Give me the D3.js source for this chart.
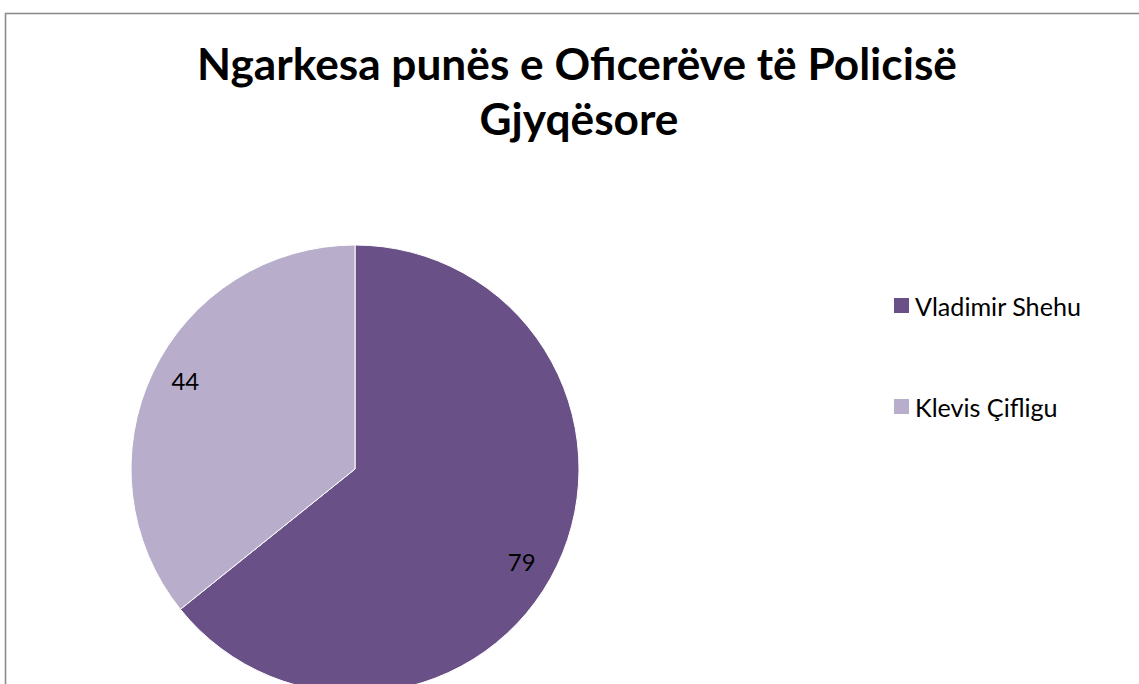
<!DOCTYPE html>
<html>
<head>
<meta charset="utf-8">
<script src="https://cdn.jsdelivr.net/npm/d3@7/dist/d3.min.js"></script>
<style>
  html, body { margin: 0; padding: 0; background: #fff; overflow: hidden; }
  svg { display: block; }
</style>
</head>
<body>
<svg id="chart" width="1139" height="684"></svg>
<script>
const titleLines = ["Ngarkesa punës e Oficerëve të Policisë", "Gjyqësore"];
const categories = ["Vladimir Shehu", "Klevis Çifligu"];
const values = [79, 44];
const colors = ["#695086", "#b8aecb"];

const svg = d3.select("#chart");
const FONT = "Lato, 'Open Sans', sans-serif";

// chart frame
svg.append("rect")
  .attr("x", 5.5).attr("y", 13.5)
  .attr("width", 1300).attr("height", 1000)
  .attr("fill", "#fff")
  .attr("stroke", "#8c8c8c").attr("stroke-width", 1.6);

function fitText(sel, targetWidth, startSize) {
  sel.attr("font-size", startSize);
  const w = sel.node().getComputedTextLength();
  sel.attr("font-size", startSize * targetWidth / w);
}

// Title
const t1 = svg.append("text")
  .attr("x", 577).attr("y", 80)
  .attr("text-anchor", "middle")
  .attr("font-family", FONT).attr("font-weight", "bold")
  .attr("fill", "#000")
  .text(titleLines[0]);
fitText(t1, 760, 44);
svg.append("text")
  .attr("x", 579).attr("y", 135)
  .attr("text-anchor", "middle")
  .attr("font-family", FONT).attr("font-weight", "bold")
  .attr("fill", "#000")
  .attr("font-size", t1.attr("font-size"))
  .text(titleLines[1]);

// Pie
const cx = 355, cy = 469, R = 224;
const pie = d3.pie().sort(null).value(d => d)(values);
const arc = d3.arc().innerRadius(0).outerRadius(R);
const labelArc = d3.arc().innerRadius(R * 0.85).outerRadius(R * 0.85);
const labelShift = [[-5, 10], [2, -6]];

const g = svg.append("g").attr("transform", `translate(${cx},${cy})`);
g.selectAll("path.slice").data(pie).join("path")
  .attr("class", "slice")
  .attr("d", arc)
  .attr("fill", (d, i) => colors[i])
  .attr("stroke", "#fff").attr("stroke-width", 1);

g.selectAll("text.lbl").data(pie).join("text")
  .attr("class", "lbl")
  .attr("transform", (d, i) => {
    const c = labelArc.centroid(d);
    return `translate(${c[0] + labelShift[i][0]},${c[1] + labelShift[i][1]})`;
  })
  .attr("text-anchor", "middle")
  .attr("dominant-baseline", "central")
  .attr("font-family", FONT)
  .attr("font-size", 24)
  .attr("fill", "#000")
  .text(d => d.data);

// Legend
const legendY = [306, 407];
const lg = svg.append("g");
categories.forEach((c, i) => {
  lg.append("rect")
    .attr("x", 894).attr("y", legendY[i] - 8)
    .attr("width", 15).attr("height", 15)
    .attr("fill", colors[i]);
  const tx = lg.append("text")
    .attr("x", 915).attr("y", legendY[i])
    .attr("dominant-baseline", "central")
    .attr("font-family", FONT)
    .attr("fill", "#000")
    .text(c);
  if (i === 0) fitText(tx, 166, 24);
  else tx.attr("font-size", lg.select("text").attr("font-size"));
});
</script>
</body>
</html>
